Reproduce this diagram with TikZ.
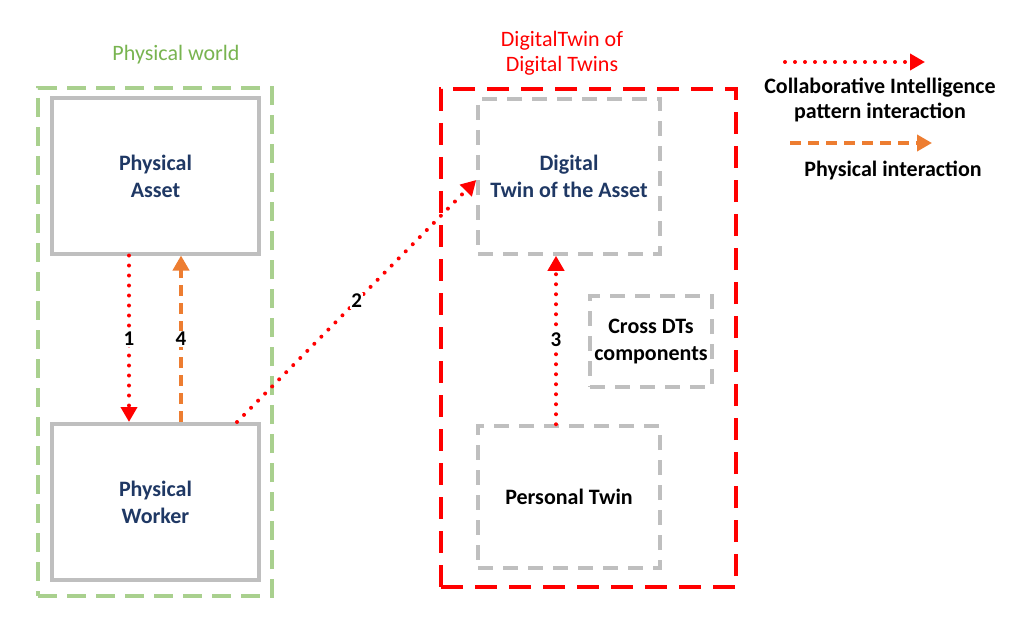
\documentclass[tikz,border=0pt]{standalone}
\usepackage{fontspec}
\setmainfont{Carlito}
\usetikzlibrary{positioning,calc,arrows.meta}
\definecolor{boxgray}{RGB}{191,191,191}
\definecolor{worldgreen}{RGB}{169,208,142}
\definecolor{worldtext}{RGB}{120,180,80}
\definecolor{navy}{RGB}{31,56,100}
\definecolor{physorange}{RGB}{237,125,49}
\tikzstyle{solidbox}=[draw=boxgray, line width=4pt, inner sep=0,
		font=\fontsize{22}{27}\selectfont\bfseries, text=navy, align=center]
\tikzstyle{dashbox}=[draw=boxgray, line width=3.5pt, dash pattern=on 15pt off 10pt,
		inner sep=0, font=\fontsize{22}{27}\selectfont\bfseries, align=center]
\tikzstyle{worldbox}=[draw=worldgreen, line width=4pt, dash pattern=on 19pt off 10pt, inner sep=0]
\tikzstyle{dtbox}=[draw=red, line width=4.5pt, dash pattern=on 22pt off 12pt, inner sep=0]
\tikzstyle{ci}=[draw=red, line width=4pt, line cap=round, dash pattern=on 0pt off 10pt,
		-{Triangle[length=15pt,width=16pt]}]
\tikzstyle{phys}=[draw=physorange, line width=4.5pt, dash pattern=on 11pt off 7pt,
		-{Triangle[length=15pt,width=16pt]}]
\tikzstyle{num}=[fill=white, inner sep=1pt, font=\fontsize{21}{24}\selectfont\bfseries]
\tikzstyle{legend}=[font=\fontsize{22}{25}\selectfont\bfseries, align=center]

\begin{document}
\begin{tikzpicture}[x=1pt, y=-1pt]
    \useasboundingbox (0,0) rectangle (1027,631);
    % groups
    \node[worldbox, minimum width=234pt, minimum height=508pt] (world) at (155,342) {};
    \node[dtbox, minimum width=295pt, minimum height=498pt] (dtdt) at (588.5,338) {};
    \node[text=worldtext, font=\fontsize{22}{25}\selectfont] (worldlbl) at (176,55) {Physical world};
    \node[text=red, font=\fontsize{22}{25}\selectfont, align=center] (dtdtlbl) at (562,53) {DigitalTwin of\\Digital Twins};
    % physical side
    \node[solidbox, minimum width=207pt, minimum height=155pt] (asset) at (155.5,176) {Physical\\Asset};
    \node[solidbox, minimum width=207pt, minimum height=156pt] (worker) at (155.5,502) {Physical\\Worker};
    % digital side
    \node[dashbox, text=navy, minimum width=182pt, minimum height=155pt] (dtasset) at (569,176.5) {Digital\\Twin of the Asset};
    \node[dashbox, minimum width=122pt, minimum height=91pt] (cross) at (651,341.5) {Cross DTs\\components};
    \node[dashbox, minimum width=182pt, minimum height=142pt] (personal) at (569,497) {Personal Twin};
    % interactions
    \draw[ci] ($(asset.south)+(-26.5,0)$) -- node[num] {1} ($(worker.north)+(-26.5,0)$);
    \draw[phys] ($(worker.north)+(25.5,0)$) -- node[num] {4} ($(asset.south)+(25.5,0)$);
    \draw[ci] ($(worker.north east)+(-24,0)$) -- node[num] {2} ($(dtasset.west)+(0,3.5)$);
    \draw[ci] ($(personal.north)+(-13,0)$) -- node[num] {3} ($(dtasset.south)+(-13,0)$);
    % legend
    \coordinate (cis) at (785,62);
    \coordinate (cie) at (925,62);
    \coordinate (phs) at (790,143);
    \coordinate (phe) at (932,143);
    \draw[ci] (cis) -- (cie);
    \node[legend] (cilbl) at (880,100) {Collaborative Intelligence\\pattern interaction};
    \draw[phys] (phs) -- (phe);
    \node[legend] (phlbl) at (893,170) {Physical interaction};
\end{tikzpicture}
\end{document}
